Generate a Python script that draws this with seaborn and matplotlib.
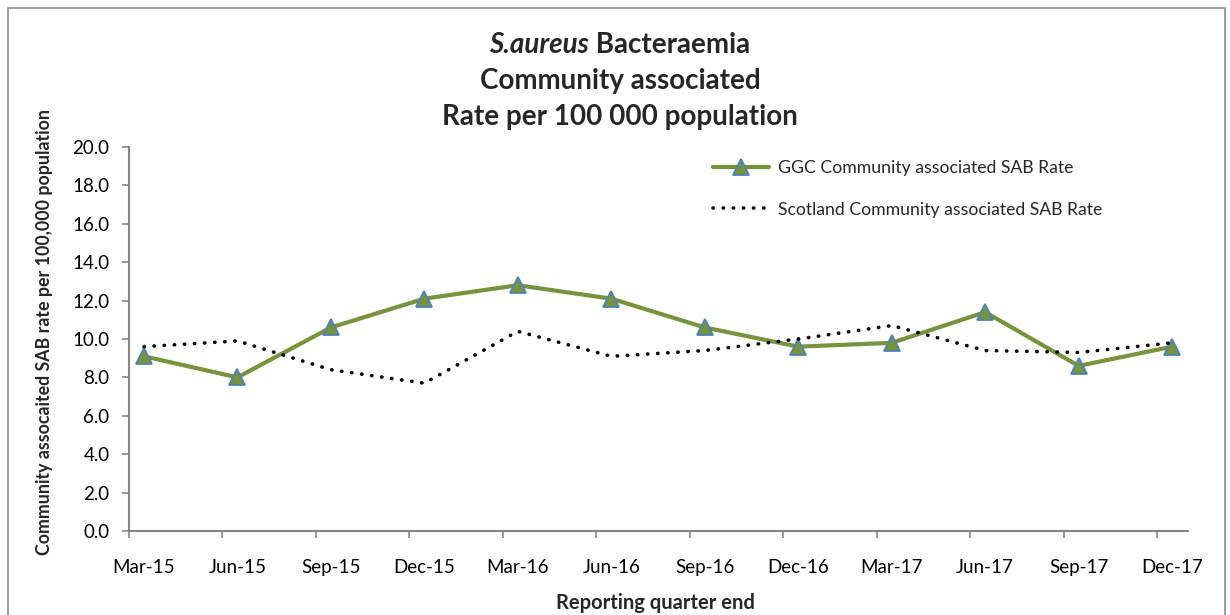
import numpy as np
import pandas as pd
import matplotlib
matplotlib.use("Agg")
import matplotlib.pyplot as plt
from matplotlib.patches import Rectangle
from matplotlib.ticker import FixedLocator, FormatStrFormatter
import seaborn as sns

categories = ["Mar-15", "Jun-15", "Sep-15", "Dec-15", "Mar-16", "Jun-16",
              "Sep-16", "Dec-16", "Mar-17", "Jun-17", "Sep-17", "Dec-17"]
ggc_rate = [9.1, 8.0, 10.6, 12.1, 12.8, 12.1, 10.6, 9.6, 9.8, 11.4, 8.6, 9.6]
scotland_rate = [9.6, 9.9, 8.4, 7.7, 10.4, 9.1, 9.4, 10.0, 10.7, 9.4, 9.3, 9.8]
y_ticks = [0, 2, 4, 6, 8, 10, 12, 14, 16, 18, 20]

ggc_label = "GGC Community associated SAB Rate"
scot_label = "Scotland Community associated SAB Rate"

df = pd.DataFrame({"pos": np.arange(len(categories)),
                   "ggc": ggc_rate, "scot": scotland_rate})

sns.set_theme(style="white")
plt.rcParams["font.family"] = ["Lato", "DejaVu Sans"]

W, H = 1230, 615
fig = plt.figure(figsize=(W / 100, H / 100), dpi=100)
fig.patch.set_facecolor("white")

# outer chart border
fig.add_artist(Rectangle((8 / W, -0.05), (1225 - 8) / W, 1 - 8 / H + 0.05,
                         transform=fig.transFigure, fill=False,
                         edgecolor="#8c8c8c", linewidth=1.2))

ax = fig.add_axes([129 / W, 1 - 531 / H, (1188 - 129) / W, (531 - 147) / H])

green = "#77933C"
blue_edge = "#4F81BD"

sns.lineplot(data=df, x="pos", y="ggc", ax=ax, color=green, linewidth=3.0,
             marker="^", markersize=11, markerfacecolor=green,
             markeredgecolor=blue_edge, markeredgewidth=1.3, label=ggc_label)
sns.lineplot(data=df, x="pos", y="scot", ax=ax, color="black", linewidth=2.6,
             linestyle=(0, (0.1, 2.7)), label=scot_label)
for line in ax.get_lines():
    if line.get_label() == scot_label:
        line.set_dash_capstyle("round")

off = 0.16
ax.set_xlim(-off, len(categories) - 1 + 0.17)
ax.set_ylim(0, 20)

ax.set_xticks(df["pos"])
ax.set_xticklabels(categories, fontsize=13.5, color="black")
ax.xaxis.set_minor_locator(FixedLocator(df["pos"].values - off))
ax.tick_params(axis="x", which="major", length=0, pad=20)
ax.tick_params(axis="x", which="minor", length=5, width=1.2, color="#868686",
               direction="out", bottom=True)

ax.set_yticks(y_ticks)
ax.yaxis.set_major_formatter(FormatStrFormatter("%.1f"))
ax.tick_params(axis="y", which="major", length=5, width=1.2, color="#868686",
               direction="out", left=True, labelsize=13.5, labelcolor="black", pad=9)

for s in ["top", "right"]:
    ax.spines[s].set_visible(False)
for s in ["left", "bottom"]:
    ax.spines[s].set_color("#868686")
    ax.spines[s].set_linewidth(1.5)
ax.grid(False)

ax.set_xlabel("")
ax.set_ylabel("")
fig.text(45 / W, 1 - 332 / H, "Community assocaited SAB rate per 100,000 population",
         rotation=90, ha="center", va="center", fontsize=12.8, fontweight="bold")
fig.text(655 / W, 1 - 603 / H, "Reporting quarter end", ha="center", va="center",
         fontsize=14.5, fontweight="bold")

leg = ax.legend(loc="upper left", bbox_to_anchor=(713 / W, 1 - 160 / H),
                bbox_transform=fig.transFigure, frameon=False, fontsize=12.7,
                handlelength=3.2, handletextpad=0.5, labelspacing=1.45,
                borderpad=0, borderaxespad=0)

# title
cx = 620 / W
fs_title = 20
fig.canvas.draw()
r = fig.canvas.get_renderer()
tA = fig.text(0, 1 - 45 / H, "S.aureus", fontsize=fs_title, fontweight="bold",
              fontstyle="italic", ha="left", va="center")
tB = fig.text(0, 1 - 45 / H, " Bacteraemia", fontsize=fs_title, fontweight="bold",
              ha="left", va="center")
wA = tA.get_window_extent(r).width / W
wB = tB.get_window_extent(r).width / W
x0 = cx - (wA + wB) / 2
tA.set_x(x0)
tB.set_x(x0 + wA)
fig.text(cx, 1 - 81 / H, "Community associated", fontsize=fs_title, fontweight="bold",
         ha="center", va="center")
fig.text(cx, 1 - 117 / H, "Rate per 100 000 population", fontsize=fs_title,
         fontweight="bold", ha="center", va="center")

fig.savefig("out.png", dpi=100)
